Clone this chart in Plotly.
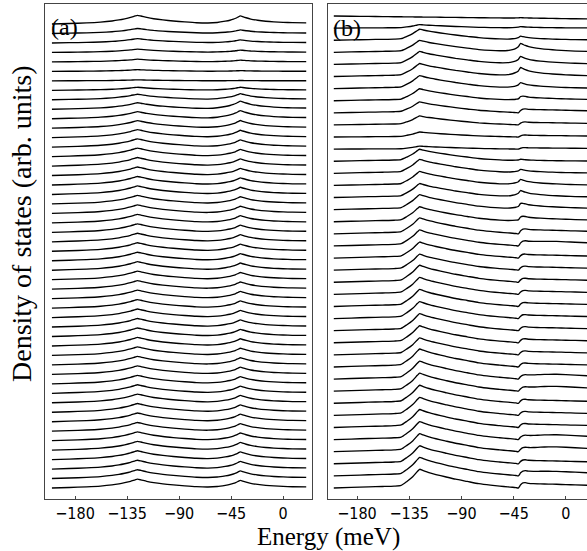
import plotly.graph_objects as go

# ---------------- data ----------------
ENERGY = [-200, -185, -170, -158, -148, -142, -137, -132, -128, -126, -123, -118, -112, -104,
          -95, -85, -75, -65, -57, -50, -46, -43, -41, -39, -37, -35, -32, -28, -22, -15,
          -8, 0, 8, 20]

# panel (a) line-shape profiles (normalised)
A_PEAK1 = [0, 0.06, 0.13, 0.22, 0.35, 0.47, 0.6, 0.76, 0.93, 1.0, 0.92, 0.76, 0.61, 0.47,
           0.35, 0.24, 0.14, 0.07, 0.04, 0.03, 0.02, 0.02, 0.02, 0.02, 0.02, 0.02, 0.02, 0.02,
           0.02, 0.01, 0.01, 0.01, 0, 0]
A_PEAK2 = [0, 0, 0, 0, 0, 0, 0, 0, 0, 0, 0, 0, 0, 0,
           0, 0, 0.01, 0.05, 0.15, 0.32, 0.45, 0.58, 0.7, 0.85, 1.0, 0.9, 0.76, 0.6,
           0.45, 0.34, 0.26, 0.2, 0.17, 0.15]

# panel (a) amplitudes, top curve first
A_AMP1 = [8.7, 5.0, 4.3, 3.3, 2.7, 1.7, 1.0, 3.0, 5.5, 6.5, 7.0, 7.5, 8.0, 8.3, 8.5, 8.5,
          8.5, 8.5, 8.5, 8.5, 8.5, 8.5, 8.5, 8.5, 8.5, 8.5, 8.5, 8.5, 8.5, 8.5, 8.5, 8.5,
          8.5, 8.5, 8.5, 8.5, 8.5, 8.5, 8.5, 8.5, 8.7, 8.7, 8.7, 8.7, 8.8, 8.8, 8.8, 8.8,
          8.8, 8.8]
A_AMP2 = [8.0, 3.5, 3.0, 2.3, 1.7, 0.7, 0.3, 3.0, 6.0, 8.0, 8.0, 7.5, 7.2, 7.0, 7.0, 7.0,
          7.0, 7.0, 7.0, 7.0, 7.0, 7.0, 7.0, 7.0, 7.0, 7.0, 7.0, 7.0, 7.0, 7.0, 7.0, 7.0,
          7.0, 7.0, 7.0, 7.0, 7.0, 7.0, 7.0, 7.0, 7.2, 7.2, 7.4, 7.4, 7.5, 7.5, 7.5, 7.5,
          7.5, 7.5]

# panel (b) line-shape profiles (normalised)
B_PEAK1 = [0, 0.03, 0.06, 0.08, 0.1, 0.14, 0.35, 0.6, 0.88, 1.0, 0.93, 0.82, 0.72, 0.6,
           0.47, 0.35, 0.23, 0.15, 0.1, 0.06, 0.04, 0.02, 0, 0, 0, 0, 0, 0,
           0, 0, 0, 0, 0, 0]
B_CUSP2 = [0, 0, 0, 0, 0, 0, 0, 0, 0, 0, 0, 0, 0, 0,
           0, 0, 0, 0.01, 0.04, 0.12, 0.25, 0.42, 0.62, 1.0, 0.88, 0.76, 0.63, 0.52,
           0.41, 0.32, 0.25, 0.19, 0.14, 0.1]
B_STEP = [0, 0, 0, 0, 0, 0, 0, 0, 0, 0, 0, 0, 0, 0,
          0, 0, 0, 0, 0, 0, 0, 0, 0, 0.6, 0.95, 1.0, 0.88, 0.82,
          0.78, 0.74, 0.7, 0.64, 0.58, 0.5]
B_HUMP = [0, 0, 0, 0, 0, 0, 0, 0, 0, 0, 0, 0, 0, 0,
          0, 0, 0, 0, 0, 0, 0, 0, 0, 0.05, 0.12, 0.2, 0.32, 0.45,
          0.7, 0.9, 1.0, 0.95, 0.8, 0.6]
B_TILT = [0, 0.068, 0.136, 0.191, 0.236, 0.264, 0.286, 0.309, 0.327, 0.336, 0.35, 0.373, 0.4, 0.436,
          0.477, 0.523, 0.568, 0.614, 0.65, 0.682, 0.7, 0.714, 0.723, 0.732, 0.741, 0.75, 0.764, 0.782,
          0.809, 0.841, 0.873, 0.909, 0.945, 1.0]

# panel (b) amplitudes, top curve first
B_AMP1 = [0, 3.5, 11, 12, 13, 13, 13, 12, 11, 9, 5, 3, 12, 14, 14, 14, 15, 15, 16, 16,
          16, 16, 17, 17, 17, 17, 17, 17, 17, 18, 18, 18, 18, 18, 18, 18, 18, 18, 18.5, 18.7]
B_AMPC = [0.5, 1.5, 4, 9, 8, 9, 6, 3, 0, 0, 0, 0, 2, 4, 6, 7, 5, 3, 0, 0,
          0, 0, 0, 0, 0, 0, 0, 0, 0, 0, 0, 0, 0, 0, 0, 0, 0, 0, 0, 0]
B_AMPS = [0, 0, 0, 0, 0, 0, 0, 2, 4, 3, 2, 1.5, 0, 0, 0, 0, 2, 3, 5, 5,
          4, 4, 4, 4, 4, 4, 4, 4, 4, 4, 4, 4, 4, 4, 4, 4, 4, 4, 5, 5.3]
B_AMPH = [0, 0, 0, 0, 0, 0, 0, 0, 0, 0, 0, 0, 0, 0, 0, 0, 0, 0, 0, 1,
          0, 0, 0, 0, 0, 0, 0, 0, 0, 0, 2, 2, 0, 0, 0, 2, 2, 0, 1, 0]
B_AMPT = [-3, 0, 0, 0, 0, 0, 0, 0, 0, 0, 0, 0, 0, 0, 0, 0, 0, 0, 0, 0,
          0, 0, 0, 0, 0, 0, 0, 0, 0, 0, 0, 0, 0, 0, 0, 0, 0, 0, 0, 0]

STEP_A = 9.46
STEP_B = 12.1
XTICKS = [-180, -135, -90, -45, 0]
XTICK_TEXT = ["\u2212180", "\u2212135", "\u221290", "\u221245", "0"]

# ---------------- figure ----------------
fig = go.Figure()
line = dict(color="black", width=1.35, shape="spline", smoothing=0.6)

na = len(A_AMP1)
for i in range(na):
    off = (na - 1 - i) * STEP_A
    y = [off + A_AMP1[i] * p1 + A_AMP2[i] * p2 for p1, p2 in zip(A_PEAK1, A_PEAK2)]
    fig.add_trace(go.Scatter(x=ENERGY, y=y, mode="lines", line=line, xaxis="x", yaxis="y",
                             showlegend=False, hoverinfo="skip"))

nb = len(B_AMP1)
for i in range(nb):
    off = (nb - 1 - i) * STEP_B
    y = [off + B_AMP1[i] * p + B_AMPC[i] * c + B_AMPS[i] * s + B_AMPH[i] * h + B_AMPT[i] * t
         for p, c, s, h, t in zip(B_PEAK1, B_CUSP2, B_STEP, B_HUMP, B_TILT)]
    fig.add_trace(go.Scatter(x=ENERGY, y=y, mode="lines", line=line, xaxis="x2", yaxis="y2",
                             showlegend=False, hoverinfo="skip"))

W, H = 587, 551
def fx(px):
    return px / W
def fy(py):
    return 1 - py / H

axis_common = dict(showgrid=False, zeroline=False, linecolor="#444", linewidth=1)
tickfont = dict(family="DejaVu Sans Condensed, DejaVu Sans, sans-serif", size=16, color="black")

fig.update_layout(
    width=W, height=H, margin=dict(l=0, r=0, t=0, b=0),
    paper_bgcolor="white", plot_bgcolor="white",
    xaxis=dict(domain=[fx(45), fx(312)], range=[-206, 25], tickvals=XTICKS,
               ticktext=XTICK_TEXT,
               ticks="inside", ticklen=3, tickcolor="#444", showline=True, mirror=True,
               tickfont=tickfont, **axis_common),
    yaxis=dict(domain=[fy(499), fy(4)], range=[-11, 49 * STEP_A + 20], showticklabels=False,
               ticks="", showline=True, mirror=True, **axis_common),
    xaxis2=dict(domain=[fx(328), 1.0], range=[-205, 18.2], tickvals=XTICKS,
                ticktext=XTICK_TEXT,
                ticks="inside", ticklen=3, tickcolor="#444", showline=True, mirror=True,
                tickfont=tickfont, anchor="y2", **axis_common),
    yaxis2=dict(domain=[fy(499), fy(4)], range=[-11, 39 * STEP_B + 12], showticklabels=False,
                ticks="", showline=True, mirror=False, anchor="x2", **axis_common),
)

serif = "Liberation Serif, DejaVu Serif, serif"
fig.add_annotation(text="Energy (meV)", x=fx(328), y=fy(537), xref="paper", yref="paper",
                   showarrow=False, font=dict(family=serif, size=25, color="black"),
                   xanchor="center", yanchor="middle")
fig.add_annotation(text="Density of states (arb. units)", x=fx(21), y=fy(224), xref="paper",
                   yref="paper", showarrow=False, font=dict(family=serif, size=28, color="black"),
                   textangle=-90, xanchor="center", yanchor="middle")
fig.add_annotation(text="(a)", x=fx(64), y=fy(27), xref="paper", yref="paper",
                   showarrow=False, font=dict(family=serif, size=24, color="black"),
                   xanchor="center", yanchor="middle")
fig.add_annotation(text="(b)", x=fx(347), y=fy(28), xref="paper", yref="paper",
                   showarrow=False, font=dict(family=serif, size=24, color="black"),
                   xanchor="center", yanchor="middle")

fig.write_html("out.html", config={"displayModeBar": False},
               post_script="document.body.style.margin='0px';")
